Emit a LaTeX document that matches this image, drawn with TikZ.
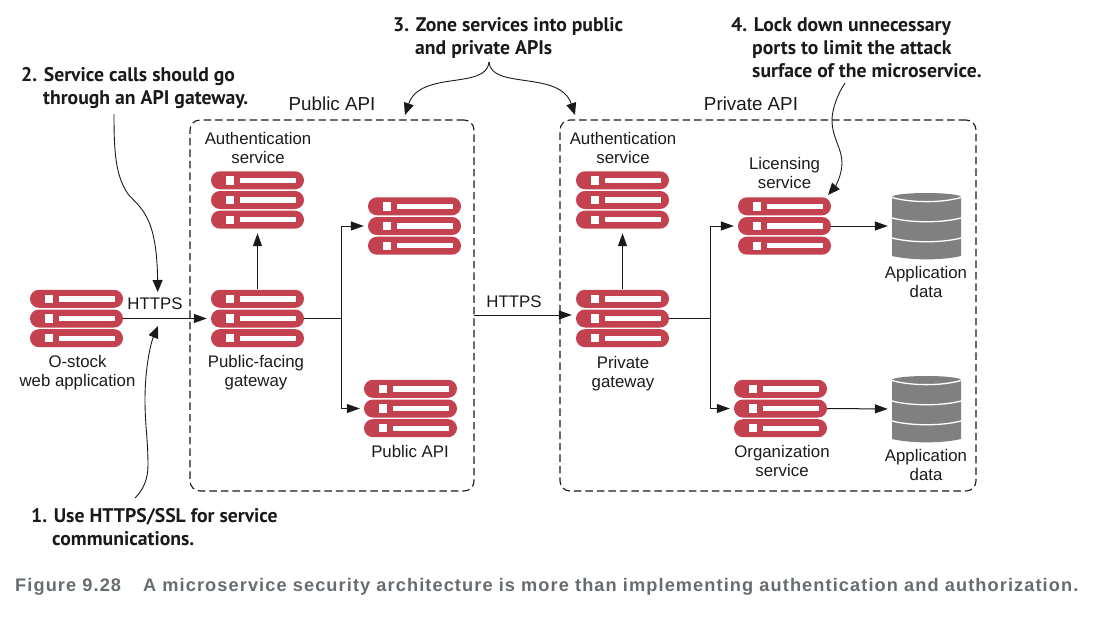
\documentclass[tikz,border=0pt]{standalone}
\usepackage{fontspec}
\setmainfont{Liberation Sans}
\newfontfamily\callfont{PT Sans}
\newfontfamily\capfont[LetterSpace=6]{Liberation Sans}
\usetikzlibrary{arrows.meta}
\definecolor{srv}{HTML}{C44250}
\definecolor{dbg}{HTML}{808080}
\definecolor{ink}{HTML}{1A1A1A}
\definecolor{capc}{HTML}{666C70}
\tikzset{
  x=1pt,y=-1pt,
  lbl/.style={font=\fontsize{16.8}{19}\selectfont,align=center,text=ink,inner sep=0pt},
  zlbl/.style={font=\fontsize{18.8}{20}\selectfont,align=center,text=ink,inner sep=0pt},
  callout/.style={font=\callfont\bfseries\fontsize{19.7}{23}\selectfont,align=left,anchor=north west,text=ink,inner sep=0pt},
  conn/.style={draw=ink,line width=1pt,shorten >=4pt,-{Triangle[length=13pt,width=9pt]}},
  plainline/.style={draw=ink,line width=1pt},
  curve/.style={draw=ink,line width=0.9pt,-{Triangle[length=12pt,width=10pt]}},
  zone/.style={draw=ink,line width=1.1pt,dashed,dash pattern=on 7.5pt off 4pt,rounded corners=10pt},
  box/.style={draw=none,minimum width=93pt,minimum height=58pt,inner sep=0pt},
}
\newcommand{\serverrack}[3]{%
  \node[box] (#1) at (#2,#3) {};
  \foreach \dy in {-19.7,0,19.7}{%
    \fill[srv,rounded corners=8.9pt] (#2-46.5,#3+\dy-9) rectangle (#2+46.5,#3+\dy+9);
    \fill[white] (#2-31.2,#3+\dy-4.2) rectangle (#2-23.2,#3+\dy+4.2);
    \fill[white] (#2-17.8,#3+\dy-2.7) rectangle (#2+38.8,#3+\dy+2.7);
  }%
}
\newcommand{\database}[3]{%
  \node[draw=none,minimum width=69pt,minimum height=66pt,inner sep=0pt] (#1) at (#2,#3) {};
  \fill[dbg] (#2-34.5,#3-29) -- (#2-34.5,#3+30) .. controls (#2-15,#3+34.5) and (#2+15,#3+34.5) .. (#2+34.5,#3+30) -- (#2+34.5,#3-29) -- cycle;
  \fill[dbg] (#2,#3-29) ellipse[x radius=34.5pt,y radius=4pt];
  \draw[white,line width=1.3pt] (#2-34.5,#3-28.5) .. controls (#2-15,#3-23) and (#2+15,#3-23) .. (#2+34.5,#3-28.5);
  \draw[white,line width=1.3pt] (#2-34.5,#3-8) .. controls (#2-15,#3-3) and (#2+15,#3-3) .. (#2+34.5,#3-8);
  \draw[white,line width=1.3pt] (#2-34.5,#3+12) .. controls (#2-15,#3+17) and (#2+15,#3+17) .. (#2+34.5,#3+12);
}
\begin{document}
\begin{tikzpicture}
\useasboundingbox (0,0) rectangle (1097,621);
% zones
\node[zone,minimum width=284pt,minimum height=371pt,inner sep=0pt] (pubzone) at (332,305.5) {};
\node[zone,minimum width=416pt,minimum height=371pt,inner sep=0pt] (privzone) at (768,305.5) {};
% servers
\serverrack{web}{76.5}{318.5}
\serverrack{pubgw}{257.5}{318.5}
\serverrack{pubauth}{257.5}{200}
\serverrack{pubtop}{414.5}{226}
\serverrack{pubbot}{410.5}{408.5}
\serverrack{privgw}{622.5}{318.5}
\serverrack{privauth}{622.5}{200}
\serverrack{lic}{784.5}{226}
\serverrack{org}{780.5}{408.5}
\database{dba}{926.5}{226}
\database{dbb}{926.5}{409}
% labels
\node[lbl] (t1) at (77.5,372.5) {O-stock\\web application};
\node[lbl] (t2) at (155,304) {HTTPS};
\node[lbl] (t3) at (256,373) {Public-facing\\gateway};
\node[lbl] (t4) at (258,148) {Authentication\\service};
\node[lbl] (t5) at (410,451) {Public API};
\node[lbl] (t6) at (514,302) {HTTPS};
\node[lbl] (t7) at (623,147.5) {Authentication\\service};
\node[lbl] (t8) at (623,373.5) {Private\\gateway};
\node[lbl] (t9) at (784.5,173) {Licensing\\service};
\node[lbl] (t10) at (926,282) {Application\\data};
\node[lbl] (t11) at (782,461) {Organization\\service};
\node[lbl] (t12) at (926,465) {Application\\data};
\node[zlbl] (t13) at (332,104) {Public API};
\node[zlbl] (t14) at (751,104) {Private API};
% callouts
\node[callout] (c1) at (31,508) {1. Use HTTPS/SSL for service\\\hspace*{21pt}communications.};
\node[callout] (c2) at (21,67) {2. Service calls should go\\\hspace*{22pt}through an API gateway.};
\node[callout] (c3) at (393,17) {3. Zone services into public\\\hspace*{22pt}and private APIs};
\node[callout] (c4) at (731,17) {4. Lock down unnecessary\\\hspace*{21pt}ports to limit the attack\\\hspace*{21pt}surface of the microservice.};
% connectors
\draw[conn] (web.east) -- (pubgw.west);
\draw[conn] (pubgw.north) -- (pubauth.south);
\coordinate (pubj) at (341,318.5);
\draw[plainline] (pubgw.east) -- (pubj);
\draw[conn] (pubj) |- (pubtop.west);
\draw[conn] (pubj) |- (pubbot.west);
\coordinate (hs) at (474,315);
\draw[conn] (hs) -- (privgw.west |- hs);
\draw[conn] (privgw.north) -- (privauth.south);
\coordinate (privj) at (710,318.5);
\draw[plainline] (privgw.east) -- (privj);
\draw[conn] (privj) |- (lic.west);
\draw[conn] (privj) |- (org.west);
\draw[conn] (lic.east) -- (dba.west);
\draw[conn] (org.east) -- (dbb.west);
% callout curves
\coordinate (c1s) at (135,498);
\coordinate (c1e) at (158,326);
\draw[curve] (c1s) .. controls (143,490) and (148,480) .. (148,465) .. controls (148,440) and (145,425) .. (145,400) .. controls (145,370) and (150,345) .. (c1e);
\coordinate (c2s) at (114,114);
\coordinate (c2e) at (157.7,292);
\draw[curve] (c2s) .. controls (114,150) and (115,175) .. (128,194) .. controls (140,208) and (157,215) .. (c2e);
\coordinate (c3s) at (489,62);
\coordinate (c3l) at (405,115);
\coordinate (c3r) at (575,115);
\draw[curve] (c3s) .. controls (487,90) and (420,70) .. (c3l);
\draw[curve] (c3s) .. controls (491,90) and (560,70) .. (c3r);
\coordinate (c4s) at (845,83);
\coordinate (c4e) at (828,195);
\draw[curve] (c4s) .. controls (837,95) and (832,110) .. (832,120) .. controls (832,138) and (842,148) .. (842,163) .. controls (842,175) and (835,187) .. (c4e);
% caption
\node[anchor=west,inner sep=0pt,text=capc,font=\capfont\fontsize{18.2}{20}\selectfont\bfseries] (cap) at (15,587) {Figure 9.28\hspace{22pt}A microservice security architecture is more than implementing authentication and authorization.};
\end{tikzpicture}
\end{document}
